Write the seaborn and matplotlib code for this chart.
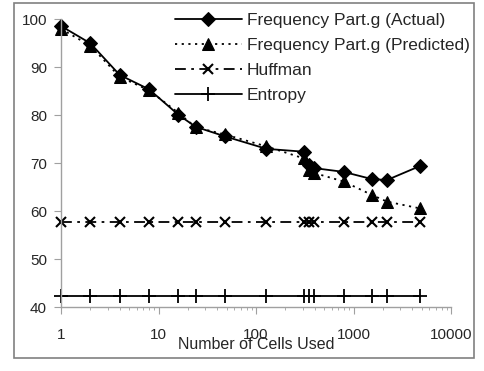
import matplotlib
matplotlib.use("Agg")
import matplotlib.pyplot as plt
import seaborn as sns
import pandas as pd
from matplotlib.patches import Rectangle

cells = [1, 2, 4, 8, 16, 24, 48, 128, 310, 350, 390, 790, 1540, 2200, 4770]
actual = [98.6, 95.0, 88.4, 85.4, 80.1, 77.6, 75.6, 73.0, 72.4, 69.6, 69.0, 68.2, 66.7, 66.5, 69.4]
predicted = [98.0, 94.5, 88.0, 85.2, 80.5, 77.5, 76.0, 73.5, 71.0, 68.5, 68.0, 66.2, 63.4, 62.0, 60.6]
huffman = [57.7] * 15
entropy = [42.4] * 15

names = ["Frequency Part.g (Actual)", "Frequency Part.g (Predicted)", "Huffman", "Entropy"]

df = pd.DataFrame({"cells": cells, names[0]: actual, names[1]: predicted,
                   names[2]: huffman, names[3]: entropy})

sns.set_style("white")
plt.rcParams['font.family'] = ['Liberation Sans', 'DejaVu Sans']

fig = plt.figure(figsize=(4.84, 3.71), dpi=100)
ax = fig.add_axes([0.126, 0.172, 0.806, 0.776])

styles = [
    dict(marker='D', linestyle='-', markersize=7),
    dict(marker='^', linestyle=(0, (1.2, 2.5)), markersize=8),
    dict(marker='x', linestyle=(0, (6, 3, 1.5, 3)), markersize=7, markeredgewidth=1.5),
    dict(marker='+', linestyle='-', markersize=10, markeredgewidth=1.3),
]
for n, st in zip(names, styles):
    sns.lineplot(data=df, x="cells", y=n, ax=ax, color='black', linewidth=1.3,
                 markeredgecolor='black', label=n, clip_on=False, **st)

ax.set_xscale('log')
ax.set_xlim(1, 10000)
ax.set_ylim(40, 100)
ax.set_yticks([40, 50, 60, 70, 80, 90, 100])
ax.set_xticks([1, 10, 100, 1000, 10000])
ax.set_xticklabels(['1', '10', '100', '1000', '10000'])
ax.set_ylabel('')
ax.set_xlabel('Number of Cells Used', fontsize=11.5)
ax.xaxis.set_label_coords(0.5, -0.131)
ax.xaxis.label.set_va('center')

for s in ['top', 'right']:
    ax.spines[s].set_visible(False)
for s in ['left', 'bottom']:
    ax.spines[s].set_color('#a0a0a0')
    ax.spines[s].set_linewidth(1.0)

ax.tick_params(axis='both', which='both', direction='out', color='#a0a0a0', labelsize=11)
ax.tick_params(axis='x', which='major', length=5, pad=10, bottom=True)
ax.tick_params(axis='x', which='minor', length=2.5, bottom=True)
ax.tick_params(axis='y', which='major', length=5, pad=5, left=True)

leg = ax.legend(loc='upper left', bbox_to_anchor=(175 / 484, 1 - 13 / 371),
                bbox_transform=fig.transFigure, frameon=False, fontsize=12.5,
                handlelength=3.85, handletextpad=0.3, labelspacing=0.56,
                borderaxespad=0, borderpad=0)

fig.patches.append(Rectangle((14 / 484, 1 - 358 / 371), (474 - 14) / 484, (358 - 3) / 371,
                             transform=fig.transFigure, fill=False,
                             edgecolor='#808080', linewidth=1.2))

fig.savefig('out.png', dpi=100)
